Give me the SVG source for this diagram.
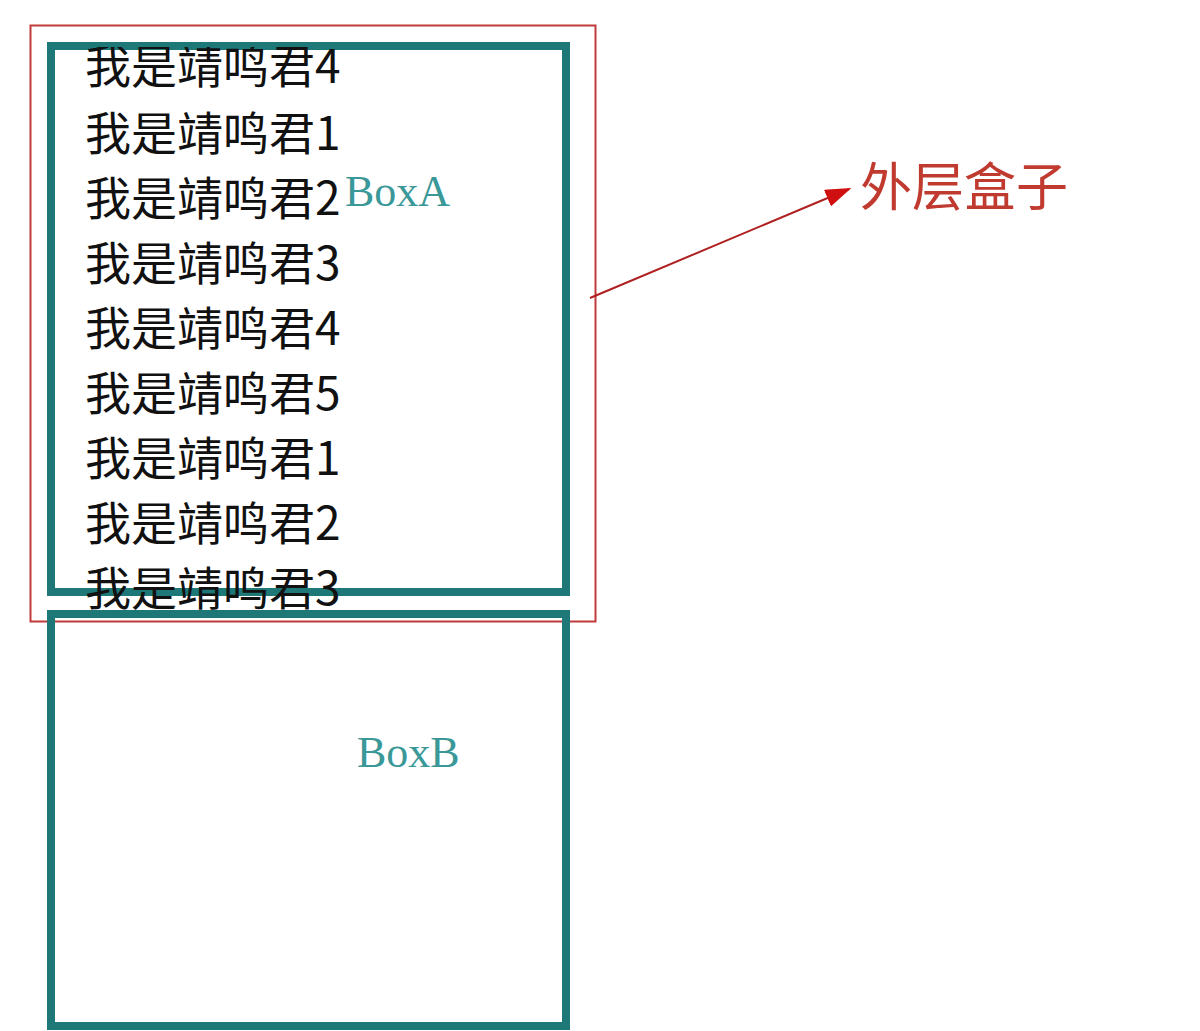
<svg xmlns="http://www.w3.org/2000/svg" width="1200" height="1031" viewBox="0 0 1200 1031">
<style>
.box{fill:none;stroke:#1f7878;stroke-width:8}
.line{font-family:"Noto Sans CJK SC","Liberation Sans",sans-serif;font-size:46px;fill:#111}
.lbl{font-family:"Liberation Serif",serif;font-size:44px;fill:#3a9898}
.note{font-family:"Noto Sans CJK SC",sans-serif;font-size:52px;fill:#c03a30}
</style>
<defs>
<clipPath id="clipA"><rect x="40" y="47" width="540" height="563"/></clipPath>
<marker id="ah" viewBox="0 0 10 10" refX="9" refY="5" markerWidth="26" markerHeight="18" orient="auto" markerUnits="userSpaceOnUse" preserveAspectRatio="none">
<path d="M0,0 L10,5 L0,10 z" fill="#d01010"/>
</marker>
</defs>
<rect width="1200" height="1031" fill="#ffffff"/>
<g id="outer">
<rect x="30.5" y="25.5" width="565" height="596" fill="none" stroke="#c03a3a" stroke-width="2"/>
</g>
<g id="boxA">
<rect x="51" y="46" width="515" height="546" fill="#f6f6f8" class="box"/>
<text class="lbl" x="345" y="206">BoxA</text>
<g clip-path="url(#clipA)">
<text class="line" x="85" y="83">我是靖鸣君4</text>
<text class="line" x="85" y="150">我是靖鸣君1</text>
<text class="line" x="85" y="215">我是靖鸣君2</text>
<text class="line" x="85" y="280">我是靖鸣君3</text>
<text class="line" x="85" y="345">我是靖鸣君4</text>
<text class="line" x="85" y="410">我是靖鸣君5</text>
<text class="line" x="85" y="475">我是靖鸣君1</text>
<text class="line" x="85" y="540">我是靖鸣君2</text>
<text class="line" x="85" y="605">我是靖鸣君3</text>
</g>
</g>
<g id="boxB">
<rect x="51" y="614" width="515" height="412" fill="#ffffff" class="box"/>
<text class="lbl" x="357" y="767">BoxB</text>
</g>
<g id="connectors">
<line x1="590" y1="298" x2="849" y2="189" stroke="#b02020" stroke-width="2" marker-end="url(#ah)"/>
</g>
<g id="label">
<text class="note" x="860" y="206">外层盒子</text>
</g>
</svg>
